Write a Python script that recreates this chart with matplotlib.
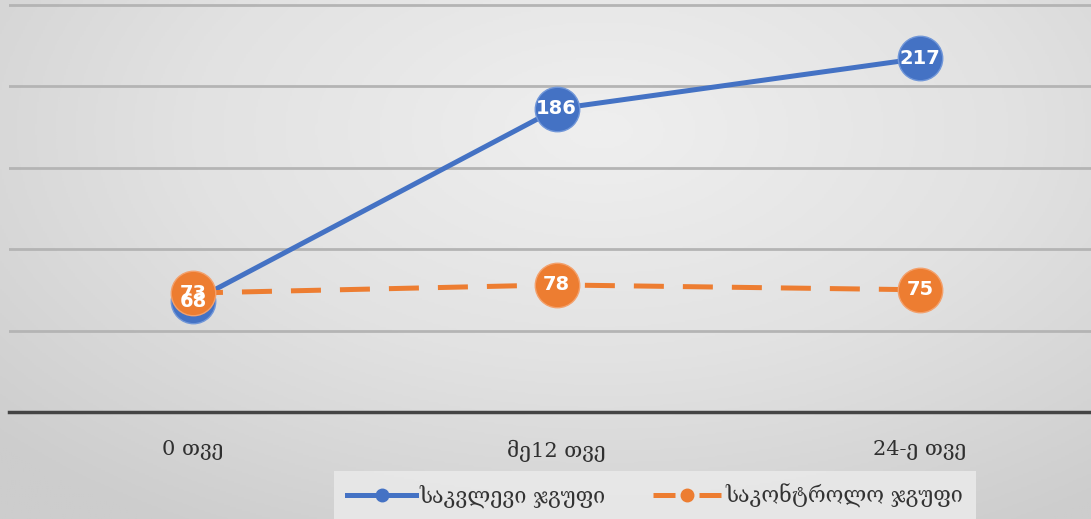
import numpy as np
import matplotlib.pyplot as plt
from matplotlib.colors import LinearSegmentedColormap
from matplotlib.lines import Line2D

months = ["0 თვე", "მე12 თვე", "24-ე თვე"]
study_group = [68, 186, 217]
control_group = [73, 78, 75]
series_names = ["საკვლევი ჯგუფი", "საკონტროლო ჯგუფი"]

BLUE = "#4472C4"
ORANGE = "#ED7D31"
GEO_FONT = ["DejaVu Serif", "DejaVu Sans"]

fig = plt.figure(figsize=(10.91, 5.19), dpi=100)

# radial gray background
bg = fig.add_axes([0, 0, 1, 1], zorder=-10)
yy, xx = np.mgrid[0:1:260j, 0:1:540j]
r = np.sqrt(((xx - 0.55) / 0.75) ** 2 + ((yy - 0.25) / 0.9) ** 2)
cmap = LinearSegmentedColormap.from_list("bg", ["#efefef", "#e2e2e2", "#cdcdcd"])
bg.imshow(np.clip(r, 0, 1), cmap=cmap, vmin=0, vmax=1, aspect="auto",
          extent=[0, 1, 0, 1], origin="upper")
bg.axis("off")

ax = fig.add_axes([9 / 1091, 1 - 412 / 519, 1 - 9 / 1091, (412 - 3) / 519])
ax.patch.set_alpha(0)
x = np.arange(len(months))

ax.plot(x, study_group, color=BLUE, lw=3.6, marker="o", ms=32,
        mfc=BLUE, mec="#7096d8", mew=1, solid_capstyle="round", zorder=3)
ax.plot(x, control_group, color=ORANGE, lw=3.6, ls=(0, (6, 3.8)), marker="o",
        ms=32, mfc=ORANGE, mec="#f3a06b", mew=1, zorder=4)

for xi, v in zip(x, study_group):
    ax.text(xi, v, str(v), color="white", fontsize=14, fontweight="bold",
            ha="center", va="center", zorder=6)
for xi, v in zip(x, control_group):
    ax.text(xi, v, str(v), color="white", fontsize=14, fontweight="bold",
            ha="center", va="center", zorder=6)

ax.set_xlim(-0.506, 2.47)
ax.set_ylim(0, 251)
ax.set_yticks([50, 100, 150, 200, 250])
ax.yaxis.grid(True, color="#b4b4b4", lw=2)
ax.set_axisbelow(True)
ax.tick_params(axis="y", left=False, labelleft=False)
ax.tick_params(axis="x", length=0, pad=20)
ax.set_xticks(x)
ax.set_xticklabels(months, fontsize=15, color="#303030", family=GEO_FONT)
for s in ["top", "right", "left"]:
    ax.spines[s].set_visible(False)
ax.spines["bottom"].set_color("#444444")
ax.spines["bottom"].set_linewidth(2.5)

handles = [
    Line2D([], [], color=BLUE, lw=3.6, marker="o", ms=9, mfc=BLUE, mec=BLUE),
    Line2D([], [], color=ORANGE, lw=3.6, ls=(0, (4.4, 4.8)), marker="o", ms=9,
           mfc=ORANGE, mec=ORANGE),
]
leg = fig.legend(handles, series_names, loc="lower center",
                 bbox_to_anchor=(655 / 1091, -0.025), ncol=2,
                 prop={"family": GEO_FONT, "size": 15.5}, frameon=True,
                 fancybox=False, handlelength=3.2, columnspacing=2.2,
                 borderpad=0.6, handletextpad=0.15)
leg.get_frame().set_facecolor("#e9e9e9")
leg.get_frame().set_edgecolor("none")
leg.get_frame().set_alpha(0.9)
for t in leg.get_texts():
    t.set_color("#333333")

fig.savefig("out.png", dpi=100)
